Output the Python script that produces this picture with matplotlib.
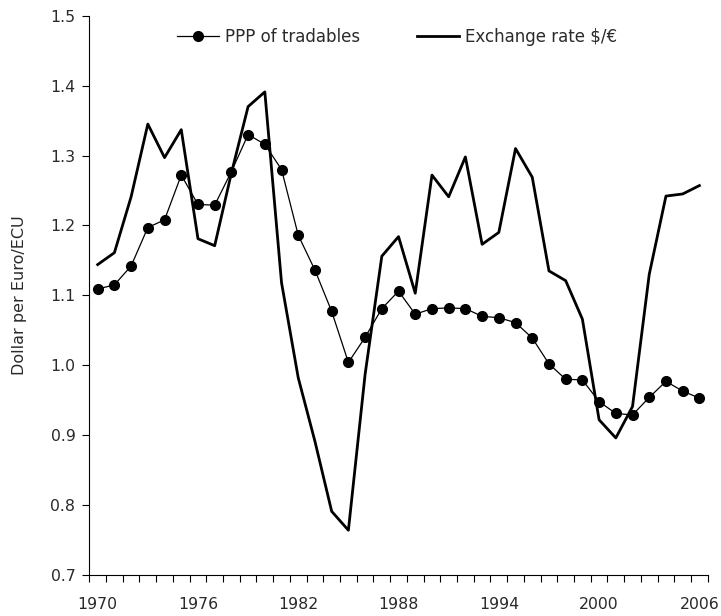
import numpy as np
import matplotlib
matplotlib.use("Agg")
import matplotlib.pyplot as plt
from matplotlib.ticker import FixedLocator

years = list(range(1970, 2007))
ppp_tradables = [1.109, 1.115, 1.142, 1.197, 1.208, 1.272, 1.230, 1.229, 1.277, 1.330,
                 1.316, 1.280, 1.186, 1.136, 1.077, 1.004, 1.040, 1.081, 1.106, 1.073,
                 1.081, 1.082, 1.081, 1.070, 1.068, 1.061, 1.039, 1.002, 0.980, 0.979,
                 0.948, 0.931, 0.929, 0.954, 0.977, 0.963, 0.953]
exchange_rate = [1.144, 1.161, 1.241, 1.345, 1.297, 1.337, 1.181, 1.171, 1.275, 1.370,
                 1.391, 1.118, 0.982, 0.891, 0.791, 0.764, 0.987, 1.156, 1.184, 1.103,
                 1.272, 1.241, 1.298, 1.173, 1.190, 1.310, 1.269, 1.135, 1.121, 1.066,
                 0.922, 0.896, 0.941, 1.130, 1.242, 1.245, 1.257]
label_years = [1970, 1976, 1982, 1988, 1994, 2000, 2006]
y_ticks = [0.7, 0.8, 0.9, 1.0, 1.1, 1.2, 1.3, 1.4, 1.5]

plt.rcParams["font.family"] = ["DejaVu Sans"]
text_col = "#2a2a2a"

fig = plt.figure(figsize=(7.21, 6.16), dpi=100)
ax = fig.add_axes([0.1239, 0.0666, 0.8577, 0.9079])

x = np.arange(len(years))
ax.plot(x, ppp_tradables, color="black", lw=0.9, marker="o", ms=7,
        label="PPP of tradables")
ax.plot(x, exchange_rate, color="black", lw=2.0, label="Exchange rate $/€")

ax.set_xlim(-0.5, len(years) - 0.5)
ax.set_ylim(0.7, 1.5)
ax.set_yticks(y_ticks)
ax.set_yticklabels([f"{v:.1f}" for v in y_ticks], fontsize=11.3, color=text_col)

# category axis: labels at centres, tick marks between categories
ax.set_xticks([years.index(y) for y in label_years])
ax.set_xticklabels([str(y) for y in label_years], fontsize=11.3, color=text_col)
ax.tick_params(axis="x", which="major", length=0, pad=16)
ax.xaxis.set_minor_locator(FixedLocator(np.arange(-0.5, len(years), 1.0)))
ax.tick_params(axis="x", which="minor", length=5, width=0.8, direction="out")
ax.tick_params(axis="y", length=5, width=0.8, direction="out", pad=5)

for s in ["top", "right"]:
    ax.spines[s].set_visible(False)
for s in ["left", "bottom"]:
    ax.spines[s].set_linewidth(0.8)

ax.set_ylabel("Dollar per Euro/ECU", fontsize=11.5, color=text_col)
ax.yaxis.set_label_coords(-0.101, 0.5)

ax.legend(loc="center left", bbox_to_anchor=(177 / 721, 1 - 37 / 616),
          bbox_transform=fig.transFigure, ncol=2, frameon=False,
          fontsize=12, handlelength=2.5, columnspacing=3.4, handletextpad=0.4,
          borderpad=0, borderaxespad=0, labelcolor=text_col)

fig.savefig("out.png", dpi=100)
